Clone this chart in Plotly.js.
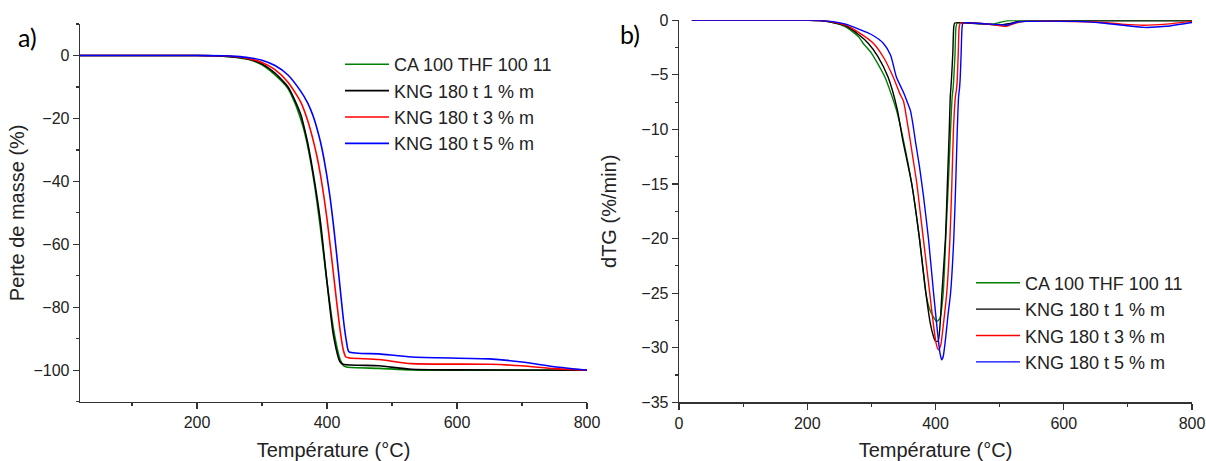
<!DOCTYPE html>
<html>
<head>
<meta charset="utf-8">
<script src="https://cdn.plot.ly/plotly-3.0.1.min.js"></script>
<style>html,body{margin:0;padding:0;background:#fff;}#chart{width:1206px;height:461px;}</style>
</head>
<body>
<div id="chart"></div>
<script>
// Series names
const seriesNames = ['CA 100 THF 100 11', 'KNG 180 t 1 % m', 'KNG 180 t 3 % m', 'KNG 180 t 5 % m'];

// a) TG : Perte de masse (%) vs Température (°C)
const tgT_CA = [20,200,240,260,280,300,320,340,350,360,365,370,380,390,400,410,420,425,430,480,530,600,800];
const tg_CA  = [0,0,-0.2,-0.6,-1.3,-3.0,-6.2,-10.5,-14.8,-20.5,-24,-28.5,-40,-55,-72,-87,-96.5,-98.5,-99.0,-99.4,-99.9,-100,-100];

const tgT_1 = [20,200,240,260,280,300,320,340,350,360,365,370,380,390,400,410,420,425,480,530,600,800];
const tg_1  = [0,0,-0.2,-0.5,-1.2,-2.7,-5.6,-10,-14,-19,-23,-27.5,-39,-53,-72,-89,-97.3,-98.1,-98.6,-99.7,-99.9,-100];

const tgT_3 = [20,200,240,260,280,300,320,340,350,360,370,375,380,385,390,395,400,405,410,415,420,425,429,435,480,530,650,700,750,800];
const tg_3  = [0,0,-0.1,-0.4,-1.0,-2.2,-4.5,-8.5,-11.5,-15,-20.5,-24,-28,-32.5,-38,-44.5,-52,-60.5,-69.5,-78.5,-87,-93.5,-95.8,-96.1,-96.6,-97.9,-98.1,-98.6,-99.5,-100];

const tgT_5 = [20,200,240,260,280,300,320,340,360,370,375,380,385,390,395,400,405,410,415,420,425,430,434,480,530,650,700,750,800];
const tg_5  = [0,0,-0.1,-0.3,-0.7,-1.5,-3.2,-6.2,-11.5,-15,-17.3,-20,-23.5,-27.5,-32.5,-38.5,-45.5,-54,-63.5,-73.5,-83.5,-91,-94.2,-94.8,-95.8,-96.4,-97.4,-98.9,-100];

// b) dTG (%/min) vs Température (°C)
const dtgT_CA = [20,200,220,240,260,280,287,300,321,339,350,363,375,385,391,397,402,407,412,416,420,423.5,426,427.5,428.5,430.5,432,434,450,470,490,500,510,530,800];
const dtg_CA  = [0,0,-0.02,-0.2,-0.6,-1.5,-2.1,-3.0,-5.2,-8.2,-11,-15,-20,-25,-26.5,-27.2,-27.6,-27.3,-25,-20,-15,-10,-7,-6.2,-5.3,-3,-0.6,-0.25,-0.25,-0.3,-0.35,-0.2,-0.05,0,0];

const dtgT_1 = [20,200,220,240,260,280,295,310,326,340.5,349,363,375,385,392,397,400,404,407,410,415.5,418.5,421.5,423,424,425,427,428.5,430,450,480,500,515,530,600,800];
const dtg_1  = [0,0,-0.02,-0.2,-0.5,-1.3,-2.1,-3.3,-5.2,-8.2,-11,-15,-20,-25,-27.8,-29,-29.4,-29.4,-28,-25,-20,-15,-10,-7,-6.2,-5.3,-3,-0.6,-0.25,-0.25,-0.35,-0.45,-0.3,-0.1,-0.05,-0.05];

const dtgT_3 = [20,200,220,240,260,280,303,320,334,345,350,355,360,365,371,376,381,391,397,401,404.5,408,413,417.5,422.5,425.5,428,431,433,434,435.5,437,439,460,490,510,525,540,650,690,725,760,800];
const dtg_3  = [0,0,-0.02,-0.15,-0.45,-1.1,-2.1,-3.5,-5.2,-6.8,-7.4,-9,-10.8,-12.7,-15,-17.5,-20,-25,-28,-29.6,-30.2,-29.8,-27.5,-25,-20,-15,-10,-7,-6.2,-5.3,-3,-0.6,-0.25,-0.25,-0.4,-0.55,-0.25,-0.1,-0.15,-0.35,-0.45,-0.35,-0.1];

const dtgT_5 = [20,200,220,240,260,280,300,318.6,330,339,350,356,361,365,369,375,381,389,397,403,407,409.6,412,416,419.5,423.5,428.5,431.5,434,436,437.5,438.5,440,441.5,443,470,500,512,525,540,620,660,700,725,760,800];
const dtg_5  = [0,0,-0.02,-0.12,-0.35,-0.8,-1.3,-2.1,-3.2,-5.2,-6.6,-7.5,-8.3,-9.6,-11.2,-13.4,-16,-20,-25,-28.5,-30.5,-31.1,-30.8,-29,-27,-25,-20,-15,-10,-7,-6.2,-5.3,-3,-0.6,-0.25,-0.3,-0.4,-0.45,-0.2,-0.1,-0.1,-0.25,-0.5,-0.65,-0.55,-0.2];

const colors = ['#008000', '#000000', '#ff0000', '#0000ff'];

const tgX = [tgT_CA, tgT_1, tgT_3, tgT_5];
const tgY = [tg_CA, tg_1, tg_3, tg_5];
const dtgX = [dtgT_CA, dtgT_1, dtgT_3, dtgT_5];
const dtgY = [dtg_CA, dtg_1, dtg_3, dtg_5];

const FONT = 'Liberation Sans, Arial, sans-serif';
const traces = [];
for (let i = 0; i < 4; i++) {
  traces.push({
    x: tgX[i], y: tgY[i], type: 'scatter', mode: 'lines', name: seriesNames[i],
    line: {color: colors[i], width: 1.6, shape: 'spline', smoothing: 0.6},
    xaxis: 'x', yaxis: 'y', legend: 'legend', hoverinfo: 'skip'
  });
}
for (let i = 0; i < 4; i++) {
  traces.push({
    x: dtgX[i], y: dtgY[i], type: 'scatter', mode: 'lines', name: seriesNames[i],
    line: {color: colors[i], width: 1.4, shape: 'spline', smoothing: 0.6},
    xaxis: 'x2', yaxis: 'y2', legend: 'legend2', hoverinfo: 'skip'
  });
}

const W = 1206, H = 461;
const axisCommon = {
  showline: true, linecolor: '#333333', linewidth: 1.3, mirror: false,
  showgrid: false, zeroline: false,
  ticks: 'outside', ticklen: 6, tickwidth: 1.2, tickcolor: '#333333',
  tickfont: {family: FONT, size: 16, color: '#222222'},
  fixedrange: true
};
const minorX = {dtick: 100, tick0: 0, ticks: 'outside', ticklen: 3, tickwidth: 1.2, tickcolor: '#333333', showgrid: false};
const titleFont = {family: FONT, size: 20, color: '#222222'};

const layout = {
  width: W, height: H,
  margin: {l: 0, r: 0, t: 0, b: 0},
  paper_bgcolor: '#ffffff', plot_bgcolor: '#ffffff',
  showlegend: true,
  xaxis: Object.assign({}, axisCommon, {
    domain: [80/W, 587/W], range: [20, 800], tick0: 0, dtick: 200,
    minor: minorX, anchor: 'y',
    title: {text: 'Température (°C)', font: titleFont, standoff: 13}
  }),
  yaxis: Object.assign({}, axisCommon, {
    domain: [1 - 401.7/H, 1 - 24/H], range: [-110, 10], tick0: 0, dtick: 20,
    minor: {dtick: 10, tick0: 0, ticks: 'outside', ticklen: 3, tickwidth: 1.2, tickcolor: '#333333', showgrid: false},
    anchor: 'x',
    title: {text: 'Perte de masse (%)', font: titleFont, standoff: 3}
  }),
  xaxis2: Object.assign({}, axisCommon, {
    domain: [679/W, 1192/W], range: [0, 800], tick0: 0, dtick: 200,
    minor: minorX, anchor: 'y2',
    title: {text: 'Température (°C)', font: titleFont, standoff: 13}
  }),
  yaxis2: Object.assign({}, axisCommon, {
    domain: [1 - 402.3/H, 1 - 20.3/H], range: [-35, 0], tick0: 0, dtick: 5,
    minor: {dtick: 2.5, tick0: 0, ticks: 'outside', ticklen: 3, tickwidth: 1.2, tickcolor: '#333333', showgrid: false},
    anchor: 'x2',
    title: {text: 'dTG (%/min)', font: titleFont, standoff: 19}
  }),
  legend: {
    x: 340/W, y: 1 - 46/H, xanchor: 'left', yanchor: 'top',
    bgcolor: 'rgba(0,0,0,0)', borderwidth: 0,
    font: {family: FONT, size: 18, color: '#222222'},
    itemwidth: 44, tracegroupgap: 0
  },
  legend2: {
    x: 971/W, y: 1 - 264.5/H, xanchor: 'left', yanchor: 'top',
    bgcolor: 'rgba(0,0,0,0)', borderwidth: 0,
    font: {family: FONT, size: 18, color: '#222222'},
    itemwidth: 44, tracegroupgap: 0
  },
  annotations: [
    {text: 'a)', x: 16/W, y: 1 - 37/H, xref: 'paper', yref: 'paper', xanchor: 'left', yanchor: 'middle',
     showarrow: false, font: {family: 'Lato, sans-serif', size: 25, color: '#000000'}},
    {text: 'b)', x: 618/W, y: 1 - 34/H, xref: 'paper', yref: 'paper', xanchor: 'left', yanchor: 'middle',
     showarrow: false, font: {family: 'Lato, sans-serif', size: 25, color: '#000000'}}
  ]
};

Plotly.newPlot('chart', traces, layout, {staticPlot: true, displayModeBar: false});
</script>
</body>
</html>
